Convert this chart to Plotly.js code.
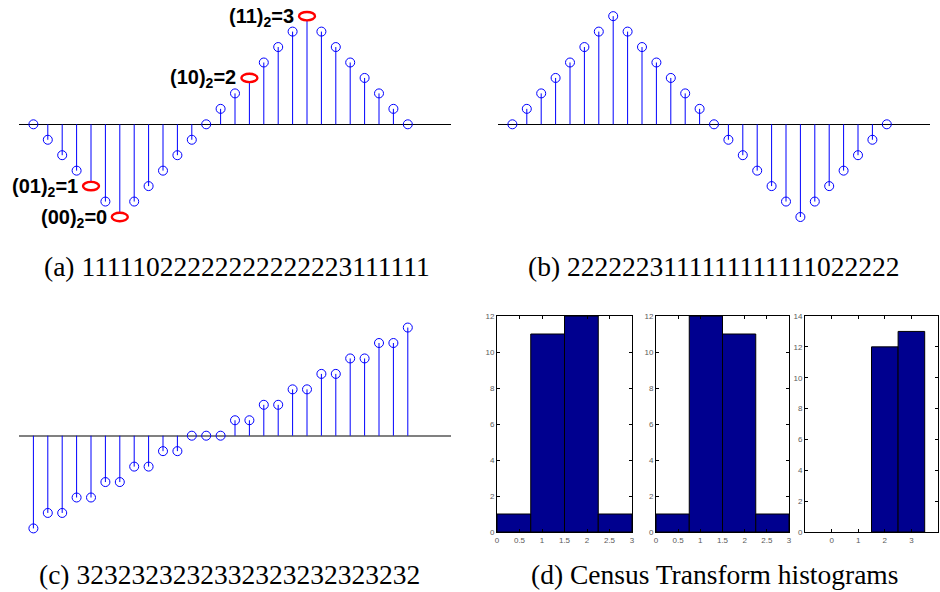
<!DOCTYPE html>
<html><head><meta charset="utf-8">
<script src="https://cdn.plot.ly/plotly-3.0.1.min.js"></script>
<style>html,body{margin:0;padding:0;background:#fff}#chart{width:940px;height:592px}</style>
</head><body><div id="chart"></div>
<script>
// ---- data ----
const sampleIndex = [1,2,3,4,5,6,7,8,9,10,11,12,13,14,15,16,17,18,19,20,21,22,23,24,25,26,27];
const seriesA = [0,-1,-2,-3,-4,-5,-6,-5,-4,-3,-2,-1,0,1,2,3,4,5,6,7,6,5,4,3,2,1,0];
const seriesB = [0,1,2,3,4,5,6,7,6,5,4,3,2,1,0,-1,-2,-3,-4,-5,-6,-5,-4,-3,-2,-1,0];
const seriesC = [-6,-5,-5,-4,-4,-3,-3,-2,-2,-1,-1,0,0,0,1,1,2,2,3,3,4,4,5,5,6,6,7];
const markedIdx = [4,6,15,19];
const codeLabels = ['(01)<sub>2</sub>=1','(00)<sub>2</sub>=0','(10)<sub>2</sub>=2','(11)<sub>2</sub>=3'];

const binCentersAB = [0.375,1.125,1.875,2.625];
const binWidthAB = 0.75;
const histA = [1,11,12,1];
const histB = [1,12,11,1];
const binCentersC = [0,1,2,3];
const binWidthC = 1;
const histC = [0,0,12,13];
const histTicksAB = [0,0.5,1,1.5,2,2.5,3];
const histTickTextAB = ['0','0.5','1','1.5','2','2.5','3'];
const histTicksC = [0,1,2,3];
const histTickTextC = ['0','1','2','3'];

const captions = [
  '(a) 11111022222222222223111111',
  '(b) 2222223111111111111022222',
  '(c) 3232323232332323232323232',
  '(d) Census Transform histograms'
];

// ---- helpers ----
const W = 940, H = 592;
const dx = (a,b) => [a/W, b/W];
const dy = (top,bottom) => [1-bottom/H, 1-top/H];

function stemTraces(xs, ys, n) {
  const lx = [], ly = [];
  xs.forEach((x,i) => { lx.push(x, x, null); ly.push(0, ys[i], null); });
  const sfx = n === 1 ? '' : String(n);
  return [
    {type:'scatter', mode:'lines', x:lx, y:ly, xaxis:'x'+sfx, yaxis:'y'+sfx,
     line:{color:'#0000ff', width:1}, hoverinfo:'skip'},
    {type:'scatter', mode:'markers', x:xs, y:ys, xaxis:'x'+sfx, yaxis:'y'+sfx,
     marker:{symbol:'circle-open', size:9, color:'#0000ff', line:{width:1, color:'#0000ff'}}}
  ];
}

const barLine = counts => ({color:'#000', width:counts.map(v => v > 0 ? 1 : 0)});

const traces = [
  ...stemTraces(sampleIndex, seriesA, 1),
  ...stemTraces(sampleIndex, seriesB, 2),
  ...stemTraces(sampleIndex, seriesC, 3),
  {type:'bar', x:binCentersAB, y:histA, width:binWidthAB, xaxis:'x4', yaxis:'y4',
   marker:{color:'#00008f', line:barLine(histA)}},
  {type:'bar', x:binCentersAB, y:histB, width:binWidthAB, xaxis:'x5', yaxis:'y5',
   marker:{color:'#00008f', line:barLine(histB)}},
  {type:'bar', x:binCentersC, y:histC, width:binWidthC, xaxis:'x6', yaxis:'y6',
   marker:{color:'#00008f', line:barLine(histC)}}
];

const stemX = (dom, anchor) => ({domain:dom, range:[0,30], visible:false, anchor:anchor, fixedrange:true});
const stemY = (dom, anchor, zc, zw) => ({domain:dom, range:[-8,8], anchor:anchor, showgrid:false,
  showticklabels:false, ticks:'', showline:false, zeroline:true, zerolinecolor:zc, zerolinewidth:zw});

const tickFont = {family:'Liberation Sans, Arial, sans-serif', size:8, color:'#5a5a5a'};
const histX = (dom, anchor, rng, tv, tt) => ({domain:dom, anchor:anchor, range:rng, tickvals:tv, ticktext:tt,
  ticks:'inside', ticklen:3, tickwidth:1, tickcolor:'#000', showline:true, linecolor:'#000', linewidth:1,
  mirror:'ticks', showgrid:false, zeroline:false, tickfont:tickFont});
const histY = (dom, anchor, rng) => ({domain:dom, anchor:anchor, range:rng, dtick:2, tick0:0,
  ticks:'inside', ticklen:3, tickwidth:1, tickcolor:'#000', showline:true, linecolor:'#000', linewidth:1,
  mirror:'ticks', showgrid:false, zeroline:false, tickfont:tickFont});

const histDomY = dy(316, 532);

const shapes = markedIdx.map(i => ({
  type:'circle', xref:'x', yref:'y', xsizemode:'pixel', ysizemode:'pixel',
  xanchor:sampleIndex[i], yanchor:seriesA[i], x0:-8, x1:8, y0:-4.2, y1:4.2,
  line:{color:'#ff0000', width:2.4}, fillcolor:'#ffffff', layer:'above'
}));

const annotations = markedIdx.map((i,k) => ({
  x:sampleIndex[i], y:seriesA[i], xref:'x', yref:'y', text:'<b>'+codeLabels[k]+'</b>',
  showarrow:false, xanchor:'right', yanchor:'middle', xshift:-11, yshift:-1,
  font:{family:'Liberation Sans, Arial, sans-serif', size:20, color:'#000'}
}));

const capFont = {family:'Liberation Serif, Times New Roman, serif', size:27.5, color:'#000'};
const capPos = [[237,266],[713,266],[229.5,574],[714.5,574]];
captions.forEach((c,k) => annotations.push({
  x:capPos[k][0]/W, y:1-capPos[k][1]/H, xref:'paper', yref:'paper', text:c, showarrow:false,
  xanchor:'center', yanchor:'middle', font:capFont
}));

const layout = {
  width:W, height:H, margin:{l:0,r:0,t:0,b:0}, paper_bgcolor:'#fff', plot_bgcolor:'rgba(0,0,0,0)',
  showlegend:false, hovermode:false,
  xaxis: stemX(dx(19,451), 'y'),
  yaxis: stemY(dy(0.7,247.9), 'x', '#000', 1),
  xaxis2: stemX(dx(498,930), 'y2'),
  yaxis2: stemY(dy(0.7,247.9), 'x2', '#000', 1),
  xaxis3: stemX(dx(19,451), 'y3'),
  yaxis3: stemY(dy(312.1,559.3), 'x3', '#808080', 1.6),
  xaxis4: histX(dx(497,632), 'y4', [0,3], histTicksAB, histTickTextAB),
  yaxis4: histY(histDomY, 'x4', [0,12]),
  xaxis5: histX(dx(656,789), 'y5', [0,3], histTicksAB, histTickTextAB),
  yaxis5: histY(histDomY, 'x5', [0,12]),
  xaxis6: histX(dx(805,938), 'y6', [-1,4], histTicksC, histTickTextC),
  yaxis6: histY(histDomY, 'x6', [0,14]),
  shapes: shapes,
  annotations: annotations
};

Plotly.newPlot('chart', traces, layout, {staticPlot:true, displayModeBar:false});
</script>
</body></html>
